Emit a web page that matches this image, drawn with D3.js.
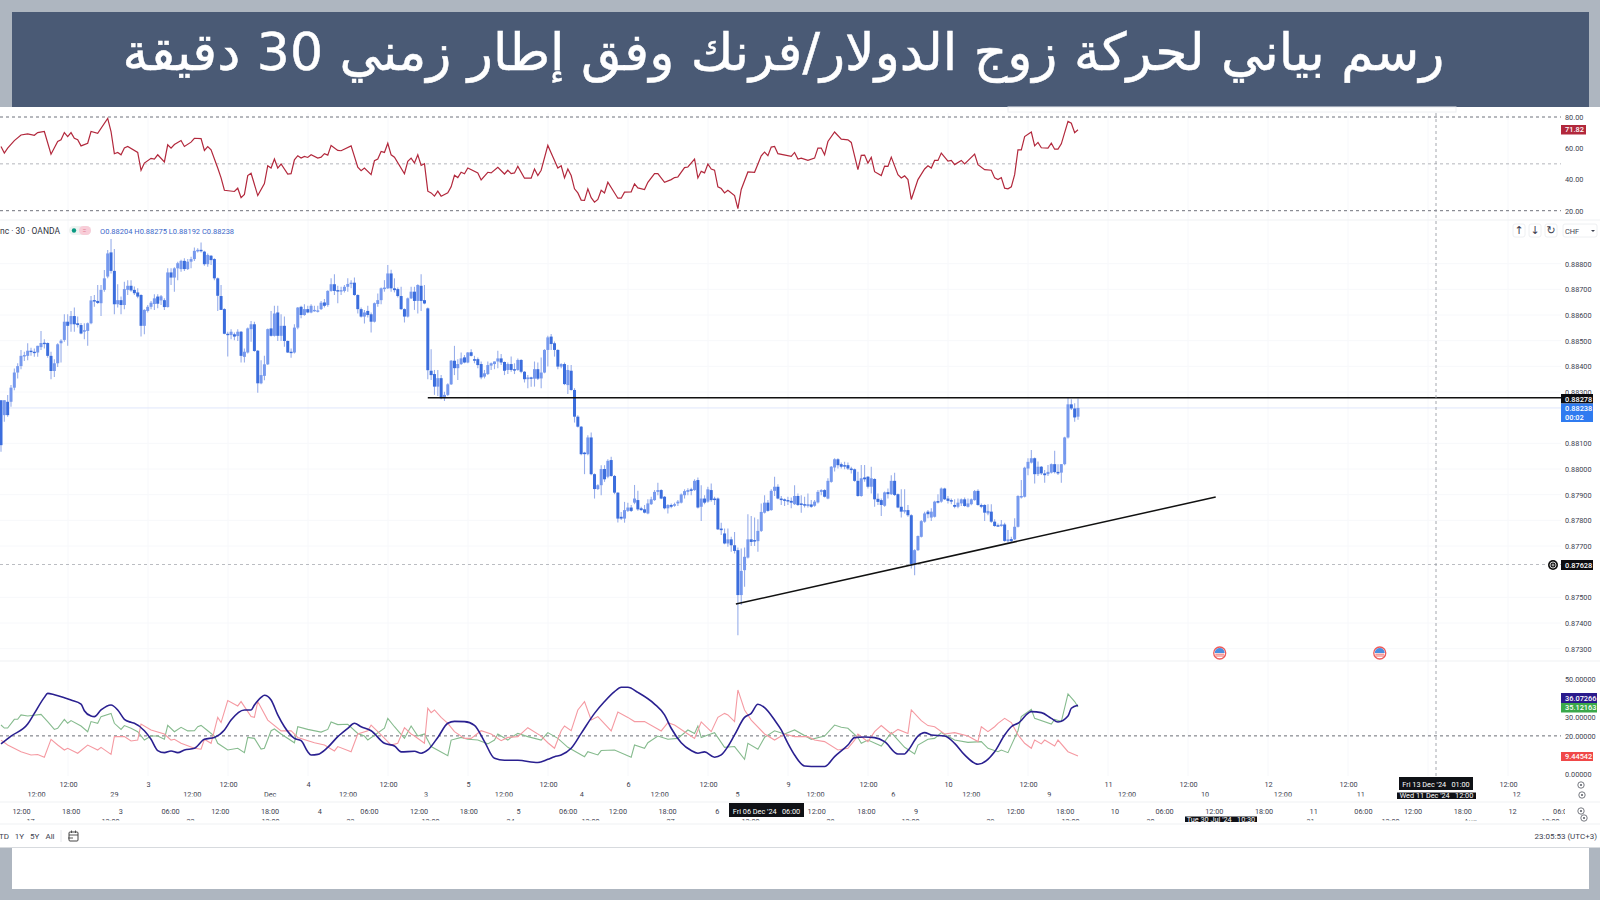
<!DOCTYPE html>
<html lang="ar">
<head>
<meta charset="utf-8">
<title>USD/CHF 30m</title>
<script src="https://cdn.jsdelivr.net/npm/d3@7/dist/d3.min.js"></script>
<style>
html,body{margin:0;padding:0;background:#aeb6c0;overflow:hidden}
svg{display:block}
text{font-family:Roboto,"Noto Sans",sans-serif}
.ax text{font-size:7.3px;fill:#3d4250;font-family:Roboto,sans-serif}
.ax path,.ax line{display:none}
</style>
</head>
<body>
<svg id="c" width="1600" height="900"></svg>
<script>
const titleText = "رسم بياني لحركة زوج الدولار/فرنك وفق إطار زمني 30 دقيقة";
const pointBase = 0.87; // candle arrays hold 1e-5 points above this price
const opens = [
1268,1210,1262,1262,1317,1376,1401,1441,1441,1461,
1457,1454,1475,1492,1491,1441,1382,1412,1490,1503,
1574,1564,1596,1568,1561,1535,1538,1568,1658,1655,
1646,1698,1750,1844,1772,1642,1658,1639,1698,1714,
1698,1688,1678,1558,1616,1632,1643,1672,1657,1658,
1631,1766,1746,1782,1779,1811,1779,1808,1818,1848,
1854,1847,1798,1831,1818,1743,1674,1623,1527,1522,
1525,1518,1535,1437,1454,1545,1564,1461,1334,1363,
1408,1548,1519,1610,1519,1558,1499,1457,1454,1551,
1632,1600,1623,1610,1616,1616,1623,1649,1639,1694,
1720,1697,1694,1694,1710,1721,1726,1678,1623,1594,
1616,1603,1574,1643,1658,1701,1704,1762,1704,1701,
1674,1623,1594,1665,1691,1655,1714,1658,1626,1383,
1370,1321,1354,1276,1289,1330,1422,1393,1409,1435,
1415,1455,1428,1428,1409,1360,1370,1403,1409,1419,
1431,1417,1386,1409,1389,1386,1425,1379,1350,1357,
1352,1389,1353,1376,1464,1516,1490,1464,1399,1409,
1327,1383,1308,1204,1165,1064,1058,1123,980,922,
937,1000,970,1035,973,908,814,807,837,850,
869,879,847,843,827,863,879,911,918,892,
847,860,857,866,869,898,911,921,918,957,
853,885,873,918,885,885,768,749,710,726,
703,684,509,606,655,726,723,719,759,830,
869,840,915,931,885,882,879,876,863,895,
866,863,856,862,857,870,911,918,885,950,
1006,1038,1019,1015,1015,1002,999,954,895,967,
970,931,961,884,879,857,910,902,954,902,
853,834,840,820,629,684,736,795,834,811,
814,875,873,924,885,879,860,853,866,882,
853,863,879,915,860,860,827,834,795,781,
778,784,719,727,726,775,889,892,1002,1025,
1042,980,1009,983,980,986,1019,989,986,1019,
1123,1252,1236,1204];
const closes = [
1093,1268,1210,1317,1376,1401,1441,1444,1461,1456,
1453,1480,1491,1488,1441,1382,1412,1486,1500,1574,
1558,1596,1564,1561,1528,1541,1568,1657,1655,1647,
1698,1743,1840,1772,1642,1658,1639,1701,1714,1696,
1685,1672,1558,1620,1632,1648,1665,1644,1673,1631,
1766,1746,1782,1802,1811,1779,1808,1818,1850,1854,
1850,1798,1834,1814,1743,1675,1620,1527,1523,1535,
1516,1535,1441,1457,1548,1564,1460,1334,1366,1408,
1545,1519,1606,1519,1558,1499,1454,1454,1551,1629,
1600,1623,1610,1636,1620,1618,1648,1636,1694,1720,
1694,1694,1697,1710,1721,1726,1678,1623,1594,1610,
1600,1574,1646,1658,1704,1707,1762,1704,1697,1674,
1623,1594,1665,1691,1655,1717,1655,1645,1385,1366,
1321,1354,1276,1289,1330,1422,1393,1409,1431,1415,
1454,1441,1422,1405,1357,1373,1405,1412,1419,1431,
1415,1383,1409,1386,1386,1425,1379,1350,1357,1352,
1389,1352,1376,1464,1513,1487,1464,1399,1409,1331,
1386,1308,1204,1165,1058,1058,1123,980,922,937,
1000,960,1032,973,908,807,807,840,850,837,
885,843,840,830,866,882,911,918,885,847,
860,853,863,873,901,914,918,915,954,850,
885,869,921,879,879,765,762,710,726,703,
681,509,603,658,726,716,719,759,833,869,
837,915,931,885,879,876,875,869,895,860,
860,858,863,853,873,911,918,892,954,1009,
1038,1015,1009,1012,1002,996,954,895,964,960,
931,964,882,872,860,909,902,954,899,850,
834,840,820,629,684,739,797,827,824,834,
873,869,924,882,876,873,853,869,882,856,
866,882,914,860,853,830,837,795,778,778,
784,720,726,719,775,895,895,1005,1028,1042,
980,1009,983,976,989,1019,988,983,1019,1123,
1252,1236,1201,1238];
const highs = [
1268,1268,1288,1327,1392,1412,1464,1457,1490,1473,
1470,1480,1538,1506,1493,1457,1428,1490,1506,1603,
1603,1616,1629,1594,1569,1568,1571,1674,1678,1717,
1717,1775,1853,1896,1857,1720,1672,1730,1736,1736,
1711,1704,1681,1623,1639,1655,1681,1681,1678,1665,
1782,1782,1786,1808,1815,1821,1818,1827,1863,1860,
1883,1850,1840,1834,1821,1746,1717,1626,1535,1545,
1532,1545,1538,1470,1551,1577,1574,1464,1424,1441,
1548,1616,1636,1636,1603,1594,1501,1470,1564,1631,
1636,1642,1636,1642,1636,1636,1655,1662,1697,1743,
1759,1714,1710,1717,1743,1736,1746,1681,1629,1620,
1636,1610,1649,1684,1707,1736,1795,1776,1743,1707,
1710,1626,1668,1710,1710,1720,1759,1717,1629,1467,
1386,1386,1366,1301,1334,1425,1480,1428,1454,1444,
1456,1467,1441,1435,1419,1386,1419,1415,1419,1461,
1448,1419,1415,1438,1412,1431,1428,1382,1366,1360,
1419,1415,1435,1467,1519,1526,1497,1467,1412,1415,
1405,1405,1315,1210,1168,1067,1132,1142,983,941,
1015,1015,1038,1048,977,910,833,872,869,860,
938,915,853,860,882,892,918,947,921,895,
863,866,869,879,905,921,925,927,960,967,
937,898,931,944,892,889,791,768,768,736,
755,694,690,694,824,817,811,804,866,898,
879,921,970,941,895,885,892,889,937,905,
898,892,905,879,879,918,921,921,964,1012,
1042,1042,1025,1028,1025,1009,1002,989,1016,1016,
973,1009,964,905,885,912,924,976,986,905,
921,921,860,824,687,741,801,834,840,847,
876,902,928,927,895,885,882,885,885,889,
885,885,918,921,866,863,863,863,804,788,
801,791,762,736,808,898,957,1009,1042,1074,
1045,1029,1012,996,1016,1022,1071,1019,1019,1126,
1279,1272,1256,1275];
const lows = [
1067,1184,1204,1243,1307,1353,1389,1421,1424,1441,
1437,1437,1464,1470,1434,1350,1359,1398,1415,1496,
1480,1535,1535,1551,1525,1506,1480,1564,1632,1643,
1596,1691,1743,1762,1603,1629,1603,1623,1678,1691,
1678,1665,1516,1525,1610,1623,1620,1626,1639,1620,
1629,1717,1691,1736,1769,1772,1775,1782,1811,1844,
1844,1792,1788,1795,1736,1616,1620,1525,1438,1506,
1502,1499,1415,1415,1450,1496,1457,1297,1330,1346,
1405,1516,1516,1499,1499,1476,1452,1434,1450,1545,
1587,1597,1607,1607,1613,1610,1620,1629,1632,1691,
1678,1646,1678,1688,1691,1704,1675,1606,1590,1567,
1590,1532,1571,1632,1642,1691,1701,1691,1688,1668,
1620,1571,1590,1662,1620,1606,1616,1642,1350,1347,
1289,1285,1272,1265,1285,1327,1366,1347,1405,1412,
1412,1438,1412,1393,1350,1353,1366,1386,1389,1393,
1405,1366,1370,1379,1370,1383,1373,1337,1315,1321,
1321,1347,1315,1373,1399,1464,1438,1389,1393,1327,
1292,1305,1181,1162,1054,980,1054,976,885,918,
898,950,964,970,902,792,801,791,833,833,
863,837,837,827,824,860,876,898,882,843,
827,847,853,856,866,885,898,898,915,846,
798,863,869,873,860,762,743,707,697,678,
671,352,470,541,651,700,700,678,755,827,
834,837,895,882,860,856,860,847,860,856,
830,850,850,849,853,866,898,889,882,947,
990,1002,1002,999,996,983,950,892,892,950,
924,905,853,860,817,853,885,899,895,847,
811,827,814,612,586,681,733,791,808,798,
811,866,869,879,866,863,847,847,856,853,
850,859,876,857,847,798,820,791,775,775,
775,717,713,713,723,772,885,889,976,1022,
944,973,977,947,973,983,983,977,947,1015,
1119,1230,1184,1192];

const rsiBars = [0,1,2,4,6,8,10,11,13,15,17,18,19,20,21,22,23,24,26,27,29,32,33,34,35,36,37,38,41,42,43,45,46,47,49,50,51,52,54,55,57,58,60,61,62,63,65,66,67,70,71,72,73,74,75,77,79,80,81,82,83,84,86,87,88,89,90,91,92,93,95,96,97,98,99,101,102,105,107,108,109,111,112,113,114,115,116,117,118,121,122,123,124,125,126,127,128,129,130,131,132,134,135,136,137,138,139,140,143,144,146,147,149,151,152,153,154,155,157,159,160,161,162,164,165,167,168,169,170,171,172,173,174,175,176,177,178,179,180,181,182,185,186,187,189,190,191,193,194,196,197,199,201,202,203,205,206,208,209,210,211,212,213,214,215,216,217,218,220,221,222,224,226,228,229,230,231,232,233,237,238,239,240,242,244,245,246,247,248,250,252,254,255,257,258,259,260,261,262,264,265,266,267,269,270,271,272,273,275,277,278,279,280,281,282,284,285,286,288,289,292,293,295,297,298,299,300,301,302,303,304,305,306,307,309,310,311,312,314,315,316,317,318,320,321,322,323];
const rsiValues = [61.1,56.9,60.1,64.9,68.5,69.2,68.3,70.0,70.7,56.2,64.3,65.4,70.0,67.5,70.0,66.4,65.4,61.5,63.2,70.7,69.6,79.1,70.7,56.5,57.3,55.8,60.1,61.1,57.3,45.9,50.5,53.5,53.1,55.8,51.2,62.2,60.1,62.4,64.9,61.1,63.9,66.4,66.2,58.6,61.1,59.0,47.3,41.0,33.1,32.3,34.4,28.3,30.4,42.5,44.0,29.7,37.4,48.8,47.3,53.1,47.3,49.9,43.5,43.7,52.6,55.2,53.7,54.8,54.1,55.8,53.7,54.3,56.5,55.6,61.8,58.6,58.4,61.5,47.8,45.6,47.3,43.1,52.0,53.1,57.9,57.3,63.2,55.8,54.3,43.7,51.6,53.7,50.5,55.8,49.0,50.1,32.5,31.4,29.3,32.5,29.3,31.4,35.3,42.7,41.2,44.6,43.7,47.3,44.2,39.7,44.6,44.2,47.8,43.5,45.9,43.7,44.2,48.4,40.8,40.8,46.7,42.5,45.9,61.8,56.9,47.3,48.8,41.0,46.7,42.5,34.0,31.4,26.8,26.6,34.0,28.3,25.5,27.2,33.1,31.4,38.2,28.0,28.0,31.9,32.1,37.2,34.6,33.6,38.2,43.7,43.7,38.2,39.9,41.2,41.6,47.6,48.0,53.1,41.0,45.2,44.2,49.9,46.7,45.9,35.3,34.2,31.4,33.1,29.7,21.3,33.6,44.8,44.6,55.2,57.5,55.2,60.7,61.1,56.5,54.8,57.3,53.1,53.7,52.2,53.7,60.1,60.1,55.8,64.3,70.4,65.8,65.4,63.7,46.3,55.4,55.6,50.5,54.1,45.0,42.5,48.6,48.4,54.3,43.1,41.0,42.3,39.9,27.2,39.9,46.7,48.8,47.3,52.2,52.2,56.9,51.8,52.2,49.5,52.2,49.9,56.2,49.5,46.3,45.9,41.0,39.9,41.2,34.4,34.0,35.3,43.1,59.0,59.0,67.5,70.4,61.5,63.7,60.3,60.1,63.2,59.4,59.4,62.8,77.2,76.0,70.0,71.82];

const adxBars = [0,3,8,10,13,14,16,19,21,24,25,27,28,30,33,35,37,39,40,43,45,47,49,51,53,55,58,61,64,67,69,73,75,76,78,79,81,83,85,88,90,92,93,95,98,101,104,106,108,111,115,118,120,124,126,128,131,134,136,139,142,145,148,151,155,161,164,166,168,171,174,178,181,184,186,188,191,196,199,201,204,207,209,211,214,216,218,220,223,225,227,229,232,234,236,238,241,245,247,250,254,256,259,262,265,269,271,272,275,277,279,283,286,289,293,298,301,303,305,309,312,315,317,320,321,323];
const adxValues = [15.8,19.9,26.2,31.8,40.2,42.3,41.6,40.0,38.8,36.7,33.2,30.4,30.1,33.6,36.2,33.6,28.7,27.1,26.6,22.7,18.2,12.3,11.2,12.1,11.2,12.6,13.5,18.2,19.2,23.1,28.3,33.6,33.6,36.2,40.2,41.3,38.8,31.0,24.8,18.7,17.5,11.7,10.0,10.3,14.0,19.6,24.0,26.6,24.8,22.7,16.1,14.7,11.6,11.9,10.9,12.6,19.2,26.6,27.6,27.5,25.5,17.0,8.2,7.2,7.2,6.0,7.7,9.1,10.0,13.5,21.3,31.8,38.0,43.2,45.5,45.5,42.8,36.7,31.0,24.0,16.4,12.3,10.9,11.6,8.8,10.0,14.4,20.5,29.7,31.8,36.6,34.8,28.3,23.1,16.1,10.0,4.2,3.9,3.9,9.1,15.2,19.1,19.4,19.1,17.0,10.5,10.5,12.3,19.9,21.7,20.5,19.9,16.1,10.0,5.1,11.7,20.5,24.8,26.6,32.7,32.2,29.2,27.3,30.4,34.5,36.07];

const plusBars = [0,1,2,4,5,6,8,12,14,16,17,19,20,21,24,26,27,29,30,33,34,36,37,39,41,43,45,47,49,50,52,54,56,58,59,60,62,64,65,68,71,73,74,76,78,79,81,82,84,88,89,92,96,98,99,101,104,107,109,110,115,116,118,121,123,125,127,129,134,135,138,140,143,146,148,149,152,153,155,158,162,164,167,170,175,176,179,180,184,189,190,193,194,197,200,203,206,208,209,210,212,214,217,220,223,224,227,229,232,235,238,243,247,250,252,254,257,258,260,264,267,271,274,275,278,280,282,286,290,294,296,299,300,302,305,306,309,310,315,316,318,320,322,323];
const plusValues = [25.7,24.1,24.1,28.7,28.7,31.0,30.4,31.3,27.5,23.4,24.0,28.7,26.6,28.0,25.2,22.2,27.5,26.6,30.1,31.8,26.6,23.4,25.4,24.0,22.2,17.8,19.9,19.9,18.2,25.5,22.2,24.5,22.6,22.7,24.8,25.5,22.7,19.9,16.1,12.6,13.5,11.2,19.2,18.7,13.1,13.5,22.7,23.6,21.0,16.4,24.8,23.4,22.0,23.4,27.3,25.9,26.1,21.3,19.9,17.8,24.0,29.2,24.8,18.7,25.2,19.9,21.0,14.4,9.6,17.8,19.2,18.2,17.8,15.8,17.8,21.0,17.8,19.2,21.3,19.6,17.8,21.7,18.7,14.0,9.1,11.7,10.0,12.3,12.6,8.8,15.2,13.5,16.4,19.9,18.2,18.7,23.1,21.3,25.2,19.2,20.5,21.7,14.0,14.4,7.7,16.1,13.0,19.2,22.7,21.0,23.1,18.2,19.9,25.7,24.5,24.0,19.1,16.1,17.8,14.7,21.7,14.0,10.5,15.2,18.2,18.7,21.7,17.8,16.6,17.0,13.5,11.7,12.6,11.2,22.7,30.1,33.9,29.2,26.2,28.7,27.5,42.0,38.0,35.12];

const minusBars = [0,2,6,9,11,13,15,17,19,20,23,26,29,30,33,34,37,39,41,42,45,49,51,52,54,58,60,61,63,65,66,68,71,72,75,76,77,80,84,87,89,94,97,100,101,105,107,110,111,114,117,119,121,123,124,127,128,129,130,132,134,136,139,141,144,147,150,152,155,158,162,164,166,168,169,171,173,175,177,179,183,185,188,190,193,198,200,202,205,208,210,213,215,217,218,220,221,223,225,229,232,235,238,242,244,247,251,254,256,257,260,262,264,267,269,272,273,276,278,280,283,286,290,293,294,296,298,299,301,303,305,307,309,310,312,313,316,317,320,323];
const minusValues = [17.8,15.2,11.7,10.0,10.2,8.8,18.2,15.2,12.6,13.5,10.9,15.2,12.6,14.0,10.3,19.6,19.6,17.3,17.8,26.2,23.1,21.0,17.8,18.2,16.1,13.5,13.0,18.2,16.1,29.7,27.0,38.5,35.7,38.0,30.1,29.7,38.0,28.3,22.6,22.7,19.2,16.4,15.2,12.1,14.4,11.7,21.0,22.7,25.7,20.5,15.2,16.1,24.3,21.0,19.9,16.1,34.5,32.2,33.6,29.7,26.6,22.2,18.7,18.7,22.7,21.0,17.5,19.2,19.6,24.3,19.9,16.4,13.5,22.7,25.2,22.7,33.6,38.0,28.3,30.1,22.6,32.5,29.7,27.5,27.5,22.6,26.9,25.7,22.2,18.7,27.3,22.2,29.7,31.8,31.0,27.5,44.1,33.6,28.3,21.0,17.8,21.0,19.6,19.6,17.8,17.0,12.6,13.5,17.8,21.0,17.0,22.2,25.4,21.0,23.4,21.3,33.6,28.0,25.4,24.8,21.0,21.7,19.9,17.0,24.8,22.2,24.8,26.6,29.2,27.0,20.5,16.1,13.5,17.8,15.8,17.8,14.7,17.8,11.7,9.44];

const priceTicks = [0.888,0.887,0.886,0.885,0.884,0.883,0.881,0.880,0.879,0.878,0.877,0.875,0.874,0.873];
const rsiTicks = [80,60,40,20];
const rsiLevels = [80,50,20];
const adxTicks = [50,30,20,0];
const adxLevel = 20;
const supportPrice = 0.87628;
const resistancePrice = 0.88278;
const lastPrice = 0.88238;
const trendBars = [220.4,364.3];
const trendPrices = [0.87474,0.87891];
const resistanceStartBar = 128;
const eventBars = [365.5,413.5];

const rowA = ["12:00","3","12:00","4","12:00","5","12:00","6","12:00","9","12:00","10","12:00","11","12:00","12","12:00","","12:00"];
const rowB = ["12:00","29","12:00","Dec","12:00","3","12:00","4","12:00","5","12:00","6","12:00","9","12:00","10","12:00","11","","12"];
const rowC = ["12:00","18:00","3","06:00","12:00","18:00","4","06:00","12:00","18:00","5","06:00","12:00","18:00","6","","12:00","18:00","9","","12:00","18:00","10","06:00","12:00","18:00","11","06:00","12:00","18:00","12","06:00"];
const rowD = ["17","12:00","22","12:00","23","12:00","24","12:00","27","12:00","28","12:00","29","12:00","30","","31","12:00","Aug","12:00"];
const rangeButtons = ["TD","1Y","5Y","All"];

const svg = d3.select("#c");
const W = 1600, H = 900;
const colors = {bg:"#aeb6c0",head:"#4a5a75",up:"#7699ee",down:"#3a6ddd",wick:"#98aeea",rsi:"#b2283c",adx:"#2a2090",plus:"#86bb8e",minus:"#f59aa2",grid:"#f7f8fb",text:"#3d4250"};

const soft = svg.append("defs").append("filter").attr("id","soft");
soft.append("feGaussianBlur").attr("stdDeviation",0.3);

// frame
svg.append("rect").attr("width",W).attr("height",H).attr("fill",colors.bg);
svg.append("rect").attr("x",0).attr("y",107).attr("width",W).attr("height",741).attr("fill","#fff");
svg.append("rect").attr("x",12).attr("y",848).attr("width",1577).attr("height",41).attr("fill","#fff");
svg.append("rect").attr("x",12).attr("y",12).attr("width",1577).attr("height",95).attr("fill",colors.head);
const title = svg.append("text").attr("x",783.5).attr("y",70).attr("text-anchor","middle").attr("direction","rtl")
  .style("font-family","'DejaVu Sans'").style("font-size","50px").attr("fill","#fff")
  .attr("stroke","#fff").attr("stroke-width",0.5).text(titleText);
const measured = title.node().getComputedTextLength();
title.style("font-size",(50*1322/measured)+"px");

// scales
const x = d3.scaleLinear().domain([0,323]).range([1,1078]);
const yPrice = d3.scaleLinear().domain([0.888,0.873]).range([263.7,648.7]);
const yRsi = d3.scaleLinear().domain([80,20]).range([117,210.7]);
const yAdx = d3.scaleLinear().domain([50,0]).range([678.7,774]);
const axisX = 1565;
const plotRight = 1561;

// faint grid
const gridX = d3.range(0,19).map(i=>68+i*80);
const g = svg.append("g").attr("stroke",colors.grid).attr("stroke-width",1);
gridX.forEach(px=>g.append("line").attr("x1",px).attr("x2",px).attr("y1",113).attr("y2",776));
priceTicks.forEach(p=>g.append("line").attr("x1",0).attr("x2",plotRight).attr("y1",yPrice(p)).attr("y2",yPrice(p)));

// panel separators
[[220,"#eff1f4"],[661,"#eff1f4"],[802,"#eff1f4"],[824,"#eff1f4"],[847.5,"#d7dade"]].forEach(d=>{
  svg.append("line").attr("x1",0).attr("x2",W).attr("y1",d[0]).attr("y2",d[0]).attr("stroke",d[1]).attr("stroke-width",1.2);
});

// clipped toolbar under the header
svg.append("rect").attr("x",1008).attr("y",107).attr("width",448).attr("height",5).attr("fill","#fff").attr("stroke","#eceef1");

// RSI pane
const rsiG = svg.append("g");
rsiLevels.forEach(v=>rsiG.append("line").attr("x1",0).attr("x2",plotRight).attr("y1",yRsi(v)).attr("y2",yRsi(v))
  .attr("stroke",v===50?"#b4b6bc":"#6f727c").attr("stroke-width",1).attr("stroke-dasharray","3 3"));
const lineOf = (bars,vals,yS,curve)=>d3.line().curve(curve||d3.curveLinear).x((d,i)=>x(bars[i])).y((d,i)=>yS(vals[i]))(vals);
rsiG.append("path").attr("d",lineOf(rsiBars,rsiValues,yRsi)).attr("fill","none").attr("stroke",colors.rsi).attr("stroke-width",1.2);
svg.append("g").attr("class","ax").attr("transform",`translate(${axisX-3},0)`)
  .call(d3.axisRight(yRsi).tickValues(rsiTicks).tickFormat(d3.format(".2f")).tickSize(0));

// price pane
svg.append("line").attr("x1",0).attr("x2",plotRight).attr("y1",yPrice(lastPrice)).attr("y2",yPrice(lastPrice)).attr("stroke","#dfe6fb").attr("stroke-width",1);
svg.append("line").attr("x1",0).attr("x2",plotRight).attr("y1",yPrice(supportPrice)).attr("y2",yPrice(supportPrice)).attr("stroke","#a9acb3").attr("stroke-width",0.8).attr("stroke-dasharray","3 3");
svg.append("g").attr("class","ax").attr("transform",`translate(${axisX-3},0)`)
  .call(d3.axisRight(yPrice).tickValues(priceTicks).tickFormat(d3.format(".5f")).tickSize(0));

const candles = svg.append("g").attr("filter","url(#soft)");
candles.selectAll("line").data(opens).join("line")
  .attr("x1",(d,i)=>x(i)).attr("x2",(d,i)=>x(i))
  .attr("y1",(d,i)=>yPrice(pointBase+highs[i]/1e5)).attr("y2",(d,i)=>yPrice(pointBase+lows[i]/1e5))
  .attr("stroke",colors.wick).attr("stroke-width",1.1);
candles.selectAll("rect").data(opens).join("rect")
  .attr("x",(d,i)=>x(i)-1.5).attr("width",3)
  .attr("y",(d,i)=>yPrice(pointBase+Math.max(opens[i],closes[i])/1e5))
  .attr("height",(d,i)=>Math.max(1.4,Math.abs(yPrice(pointBase+opens[i]/1e5)-yPrice(pointBase+closes[i]/1e5))))
  .attr("fill",(d,i)=>closes[i]>=opens[i]?colors.up:colors.down);

svg.append("line").attr("x1",x(resistanceStartBar)).attr("x2",plotRight).attr("y1",yPrice(resistancePrice)).attr("y2",yPrice(resistancePrice)).attr("stroke","#111").attr("stroke-width",1.5);
svg.append("line").attr("x1",x(trendBars[0])).attr("x2",x(trendBars[1])).attr("y1",yPrice(trendPrices[0])).attr("y2",yPrice(trendPrices[1])).attr("stroke","#111").attr("stroke-width",1.5);

// legend row
svg.append("text").attr("x",0).attr("y",234).attr("font-size",8.5).attr("fill","#2f3340").text("nc · 30 · OANDA");
svg.append("rect").attr("x",69).attr("y",226).attr("width",22).attr("height",9).attr("rx",4.5).attr("fill","#eef3f1");
svg.append("rect").attr("x",79).attr("y",226).attr("width",12).attr("height",9).attr("rx",4.5).attr("fill","#f8cdd8");
svg.append("circle").attr("cx",74).attr("cy",230.5).attr("r",2.2).attr("fill","#089981");
svg.append("text").attr("x",84.5).attr("y",233).attr("text-anchor","middle").attr("font-size",7).attr("fill","#e2798f").text("=");
svg.append("text").attr("x",100).attr("y",233.5).attr("font-size",7.5).attr("fill","#3b67c9").text("O0.88204  H0.88275  L0.88192  C0.88238");

// top-right controls
[1519,1535,1551].forEach((px,i)=>{
  svg.append("rect").attr("x",px-6).attr("y",224).attr("width",12).attr("height",13).attr("rx",2).attr("fill","#fff").attr("stroke","#eef0f2");
  svg.append("text").attr("x",px).attr("y",234.2).attr("text-anchor","middle").attr("font-size",11).attr("fill","#3d4250").style("font-family","'DejaVu Sans'").text(["↑","↓","↻"][i]);
});
svg.append("rect").attr("x",1563).attr("y",224).attr("width",34).attr("height",13).attr("rx",2).attr("fill","#fff").attr("stroke","#eef0f2");
svg.append("text").attr("x",1565).attr("y",233.5).attr("font-size",7.4).attr("fill","#3d4250").text("CHF");
svg.append("path").attr("d",d3.line()([[1591,230],[1595,230],[1593,232]])).attr("fill","#3d4250");

// event flags
eventBars.forEach(b=>{
  const f = svg.append("g").attr("transform",`translate(${x(b)},653)`);
  f.append("circle").attr("r",6).attr("fill","#fff").attr("stroke","#ee5a5a").attr("stroke-width",1.3);
  f.append("path").attr("d",d3.arc()({innerRadius:0,outerRadius:5,startAngle:-Math.PI/2,endAngle:Math.PI/2})).attr("fill","#4a8fe0");
  [1.2,3].forEach(dy=>f.append("line").attr("x1",-4.4).attr("x2",4.4).attr("y1",dy).attr("y2",dy).attr("stroke","#ee5a5a").attr("stroke-width",0.9));
});

// DMI pane
svg.append("line").attr("x1",0).attr("x2",plotRight).attr("y1",yAdx(adxLevel)).attr("y2",yAdx(adxLevel)).attr("stroke","#5a5d66").attr("stroke-width",0.9).attr("stroke-dasharray","3 3");
svg.append("path").attr("d",lineOf(plusBars,plusValues,yAdx)).attr("fill","none").attr("stroke",colors.plus).attr("stroke-width",1.1);
svg.append("path").attr("d",lineOf(minusBars,minusValues,yAdx)).attr("fill","none").attr("stroke",colors.minus).attr("stroke-width",1.1);
svg.append("path").attr("d",lineOf(adxBars,adxValues,yAdx,d3.curveMonotoneX)).attr("fill","none").attr("stroke",colors.adx).attr("stroke-width",1.6);
svg.append("g").attr("class","ax").attr("transform",`translate(${axisX-3},0)`)
  .call(d3.axisRight(yAdx).tickValues(adxTicks).tickFormat(d3.format(".5f")).tickSize(0));

// crosshair
svg.append("line").attr("x1",1436).attr("x2",1436).attr("y1",113).attr("y2",777).attr("stroke","#9a9da5").attr("stroke-width",0.9).attr("stroke-dasharray","3 3");

// price tags
function tag(x0,x1,y0,y1,fill,lines){
  svg.append("rect").attr("x",x0).attr("y",y0).attr("width",x1-x0).attr("height",y1-y0).attr("fill",fill);
  lines.forEach(l=>svg.append("text").attr("x",x0+4).attr("y",l[1]).attr("font-size",7.4).attr("fill","#fff").attr("font-weight",500).text(l[0]));
}
tag(1561,1586,125,134.5,colors.rsi,[["71.82",132.4]]);
tag(1561,1593,394,403.5,"#0c0c10",[["0.88278",401.6]]);
tag(1561,1593,403.5,422,"#2f7bf0",[["0.88238",411],["00:02",419.5]]);
tag(1561,1593,560,570,"#0c0c10",[["0.87628",567.6]]);
svg.append("circle").attr("cx",1553).attr("cy",565).attr("r",5).attr("fill","#111");
svg.append("circle").attr("cx",1553).attr("cy",565).attr("r",3).attr("fill","none").attr("stroke","#fff").attr("stroke-width",0.8);
svg.append("path").attr("d","M1551.5 565H1554.5M1553 563.5V566.5").attr("stroke","#fff").attr("stroke-width",0.7);
tag(1561,1597,693,703,"#2a1a8c",[["36.07266",700.6]]);
tag(1561,1597,703,712.5,"#3aa84a",[["35.12163",710.4]]);
tag(1561,1593,752,761,"#f04848",[["9.44542",759.3]]);

// time rows
function timeRow(labels,first,step,yOffset,clip,clipId){
  const s = d3.scaleLinear().domain([0,1]).range([first,first+step]);
  svg.append("clipPath").attr("id",clipId).append("rect").attr("x",clip[0]).attr("y",clip[1]).attr("width",clip[2]-clip[0]).attr("height",clip[3]-clip[1]);
  const outer = svg.append("g").attr("clip-path",`url(#${clipId})`);
  outer.append("g").attr("class","ax").attr("transform",`translate(0,${yOffset})`)
    .call(d3.axisBottom(s).tickValues(d3.range(labels.length).filter(i=>labels[i])).tickFormat(i=>labels[i]).tickSize(0));
}
timeRow(rowB,36,77.9,789,[0,791,1570,796.5],"cb");
timeRow(rowD,30,80,815.5,[0,816,1570,820.5],"cd");
timeRow(rowA,68,80,779,[0,778,1570,791],"ca");
timeRow(rowC,21,49.7,806,[0,805,1565,817],"cc");

function box(x0,x1,y0,y1,txt,yT){
  svg.append("rect").attr("x",x0).attr("y",y0).attr("width",x1-x0).attr("height",y1-y0).attr("fill","#0f1116");
  svg.append("text").attr("x",(x0+x1)/2).attr("y",yT).attr("text-anchor","middle").attr("font-size",7.3).attr("fill","#fff")
    .style("white-space","pre").text(txt);
}
box(1397,1476,792.5,799,"Wed 11 Dec '24   12:00",798);
box(1399,1473,777,790,"Fri 13 Dec '24   01:00",786.5);
box(1185,1257,816.5,822,"Tue 30 Jul '24   10:30",822);
box(729,804,803,817,"Fri 06 Dec '24   06:00",813.5);

// gear icons
[[1581,785],[1582,795],[1581,811],[1584,818]].forEach(p=>{
  svg.append("circle").attr("cx",p[0]).attr("cy",p[1]).attr("r",3.2).attr("fill","#fff").attr("stroke","#555962").attr("stroke-width",0.8);
  svg.append("circle").attr("cx",p[0]).attr("cy",p[1]).attr("r",1).attr("fill","#555962");
});

// bottom toolbar
const btnX = d3.scalePoint().domain(rangeButtons).range([4,50]);
rangeButtons.forEach(t=>svg.append("text").attr("x",btnX(t)).attr("y",839).attr("text-anchor","middle").attr("font-size",8).attr("fill",colors.text).text(t));
svg.append("line").attr("x1",61).attr("x2",61).attr("y1",830).attr("y2",842).attr("stroke","#e6e8ec");
svg.append("rect").attr("x",69).attr("y",832).attr("width",9).attr("height",9).attr("rx",1).attr("fill","none").attr("stroke","#444");
svg.append("path").attr("d","M69 835H78M71.5 830.5V833M75.5 830.5V833M68 838H73").attr("fill","none").attr("stroke","#444").attr("stroke-width",0.9);
svg.append("text").attr("x",1597).attr("y",839).attr("text-anchor","end").attr("font-size",8).attr("fill",colors.text).text("23:05:53 (UTC+3)");
</script>
</body>
</html>
